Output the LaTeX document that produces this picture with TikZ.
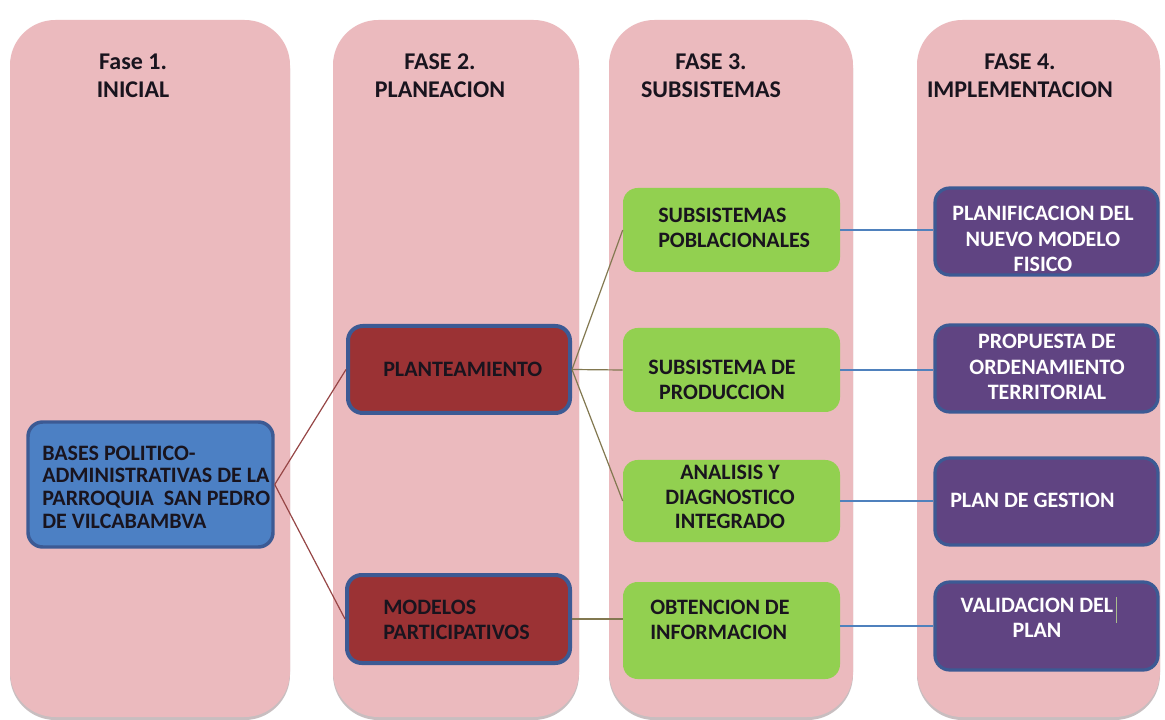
\documentclass[tikz,border=0pt]{standalone}
\usepackage{fontspec}
\setmainfont{Carlito}
\definecolor{phasepink}{RGB}{235,186,190}
\definecolor{colshadow}{RGB}{200,190,192}
\definecolor{basesblue}{RGB}{76,128,196}
\definecolor{borderblue}{RGB}{60,90,148}
\definecolor{redfill}{RGB}{155,50,52}
\definecolor{greenfill}{RGB}{146,208,80}
\definecolor{purplefill}{RGB}{96,68,130}
\definecolor{redline}{RGB}{150,70,70}
\definecolor{oliveline}{RGB}{130,120,80}
\definecolor{blueline}{RGB}{79,129,189}
\definecolor{darktext}{RGB}{25,20,30}
\definecolor{cursorcol}{RGB}{170,190,140}
\begin{document}
\begin{tikzpicture}[x=0.75pt,y=-0.75pt,
  phase/.style={fill=phasepink, rounded corners=34pt},
  phaseshadow/.style={fill=colshadow, rounded corners=34pt},
  hdr/.style={font=\fontsize{18}{21}\selectfont\bfseries, text=darktext, align=center, inner sep=0pt},
  sz/.style 2 args={minimum width=#1*0.75pt, minimum height=#2*0.75pt, inner sep=0pt},
  basesbox/.style={draw=borderblue, line width=2.6pt, fill=basesblue, rounded corners=11pt},
  redbox/.style={draw=borderblue, line width=3pt, fill=redfill, rounded corners=11pt},
  greenbox/.style={fill=greenfill, rounded corners=11pt},
  purplebox/.style={draw=borderblue, line width=2.4pt, fill=purplefill, rounded corners=11pt},
  btxt/.style={font=\fontsize{16.5}{18.5}\selectfont\bfseries, text=darktext, inner sep=0pt},
  wtxt/.style={font=\fontsize{16.5}{19}\selectfont\bfseries, text=white, inner sep=0pt},
  rconn/.style={draw=redline, line width=0.9pt},
  oconn/.style={draw=oliveline, line width=0.9pt},
  bconn/.style={draw=blueline, line width=0.9pt}
]
\useasboundingbox (0,0) rectangle (1165,720);
\fill[white] (0,0) rectangle (1165,720);
% phase columns
\path[phaseshadow] (10,23) rectangle (290,720);
\path[phaseshadow] (333,23) rectangle (579,720);
\path[phaseshadow] (609,23) rectangle (853,720);
\path[phaseshadow] (917,23) rectangle (1160,720);
\path[phase] (10,20) rectangle (290,717);
\path[phase] (333,20) rectangle (579,717);
\path[phase] (609,20) rectangle (853,717);
\path[phase] (917,20) rectangle (1160,717);
% headers
\node[hdr] (h1) at (133,76) {Fase 1.\\INICIAL};
\node[hdr] (h2) at (440,76) {FASE 2.\\PLANEACION};
\node[hdr] (h3) at (711,76) {FASE 3.\\SUBSISTEMAS};
\node[hdr] (h4) at (1020,76) {FASE 4.\\IMPLEMENTACION};
% boxes
\node[basesbox, sz={245}{125}] (bases) at (150.5,484.5) {};
\node[redbox, sz={222}{87}] (plant) at (459,369.5) {};
\node[redbox, sz={223}{88}] (model) at (458.5,619) {};
\node[greenbox, sz={217}{84}] (g1) at (731.5,230) {};
\node[greenbox, sz={217}{84}] (g2) at (731.5,370) {};
\node[greenbox, sz={217}{82}] (g3) at (731.5,501) {};
\node[greenbox, sz={217}{97}] (g4) at (731.5,630.5) {};
\node[purplebox, sz={223}{87}] (p1) at (1046.5,231.5) {};
\node[purplebox, sz={223}{87}] (p2) at (1046.5,368.5) {};
\node[purplebox, sz={223}{87}] (p3) at (1046.5,501.5) {};
\node[purplebox, sz={223}{88}] (p4) at (1046.5,626) {};
% connectors
\draw[rconn] (bases.east) -- (plant.west);
\draw[rconn] (bases.east) -- (model.west);
\draw[oconn] (plant.east) -- (g1.west);
\draw[oconn] (plant.east) -- (g2.west);
\draw[oconn] (plant.east) -- (g3.west);
\draw[oconn] (model.east) -- (model.east -| g4.west);
\draw[bconn] (g1.east) -- (g1.east -| p1.west);
\draw[bconn] (g2.east) -- (g2.east -| p2.west);
\draw[bconn] (g3.east) -- (g3.east -| p3.west);
\draw[bconn] (g4.east |- p4.west) -- (p4.west);
% texts
\node[btxt, anchor=west, align=left, font=\fontsize{16.5}{17}\selectfont\bfseries] (tbases) at (42,487) {BASES POLITICO-\\ADMINISTRATIVAS DE LA\\PARROQUIA\ \ SAN PEDRO\\DE VILCABAMBVA};
\node[btxt, anchor=west] (tplant) at (383,369) {PLANTEAMIENTO};
\node[btxt, anchor=west, align=left] (tmodel) at (383,620) {MODELOS\\PARTICIPATIVOS};
\node[btxt, anchor=west, align=left] (tg1) at (658,228) {SUBSISTEMAS\\POBLACIONALES};
\node[btxt, align=center] (tg2) at (722,380) {SUBSISTEMA DE\\PRODUCCION};
\node[btxt, align=center] (tg3) at (730,497) {ANALISIS Y\\DIAGNOSTICO\\INTEGRADO};
\node[btxt, anchor=west, align=left] (tg4) at (650,620) {OBTENCION DE\\INFORMACION};
\node[wtxt, align=center] (tp1) at (1043,239) {PLANIFICACION DEL\\NUEVO MODELO\\FISICO};
\node[wtxt, align=center] (tp2) at (1047,367) {PROPUESTA DE\\ORDENAMIENTO\\TERRITORIAL};
\node[wtxt, anchor=west] (tp3) at (950,500) {PLAN DE GESTION};
\node[wtxt, align=center] (tp4) at (1037,618) {VALIDACION DEL\\PLAN};
\draw[draw=cursorcol, line width=1.2pt] (tp4.north east) ++(3,-1) coordinate (cur) -- ++(0,26);
\end{tikzpicture}
\end{document}
